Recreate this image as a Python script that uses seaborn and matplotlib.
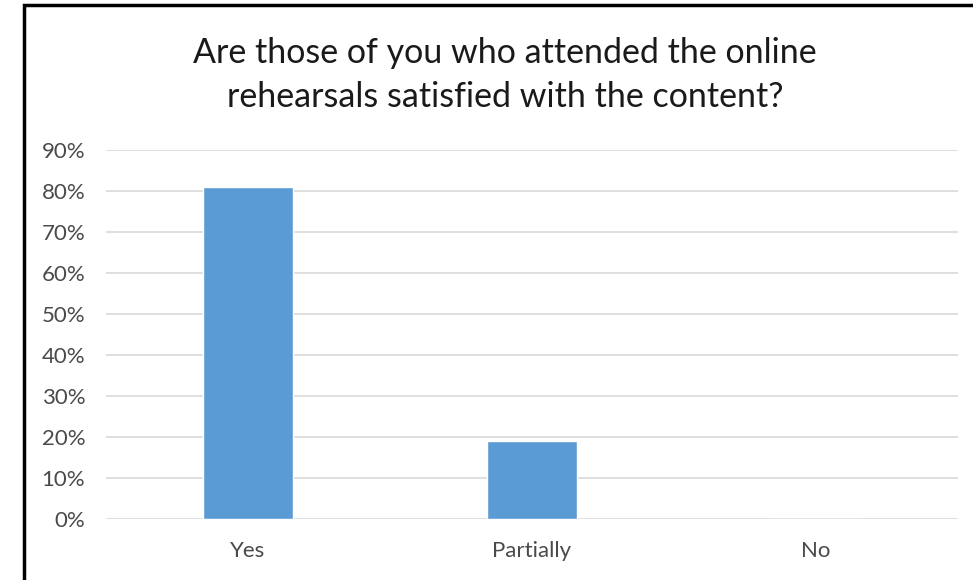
import pandas as pd
import seaborn as sns
import matplotlib.pyplot as plt
from matplotlib.patches import Rectangle
from matplotlib.ticker import PercentFormatter

# --- DANE ---
odpowiedzi = ['Yes', 'Partially', 'No']
udzial = [0.81, 0.19, 0.0]
tytul = 'Are those of you who attended the online\nrehearsals satisfied with the content?'

sns.set_theme(style="white")
plt.rcParams['font.family'] = ['Lato', 'DejaVu Sans']

df = pd.DataFrame({'Odpowiedz': odpowiedzi, 'Udzial': udzial})

fig = plt.figure(figsize=(9.73, 5.80), dpi=100)
ax = fig.add_axes([106 / 973, 1 - 519 / 580, (958 - 106) / 973, (519 - 150) / 580])

sns.barplot(data=df, x='Odpowiedz', y='Udzial', color='#5B9BD5', width=0.317,
            saturation=1, ax=ax, zorder=3)

ax.set_ylim(0, 0.9)
ax.set_yticks([i / 10 for i in range(10)])
ax.yaxis.set_major_formatter(PercentFormatter(1.0, decimals=0))
ax.grid(axis='y', color='#D9D9D9', linewidth=1.2, zorder=0)
ax.set_axisbelow(True)
ax.set_xlabel('')
ax.set_ylabel('')
for s in ax.spines.values():
    s.set_visible(False)
ax.tick_params(axis='both', length=0, labelsize=16, labelcolor='#4a4a4a')
ax.tick_params(axis='y', pad=15)
ax.tick_params(axis='x', pad=16)

# ramka wykresu
fig.patches.append(Rectangle((24 / 973, -0.05), 1.1, 1 - 5 / 580 + 0.05, transform=fig.transFigure,
                             fill=False, edgecolor='black', linewidth=2.5))

fig.text(505 / 973, 1 - 75 / 580, tytul, ha='center', va='center', fontsize=24.5,
         color='#1a1a1a', linespacing=1.48)

fig.savefig('out.png', dpi=100)
